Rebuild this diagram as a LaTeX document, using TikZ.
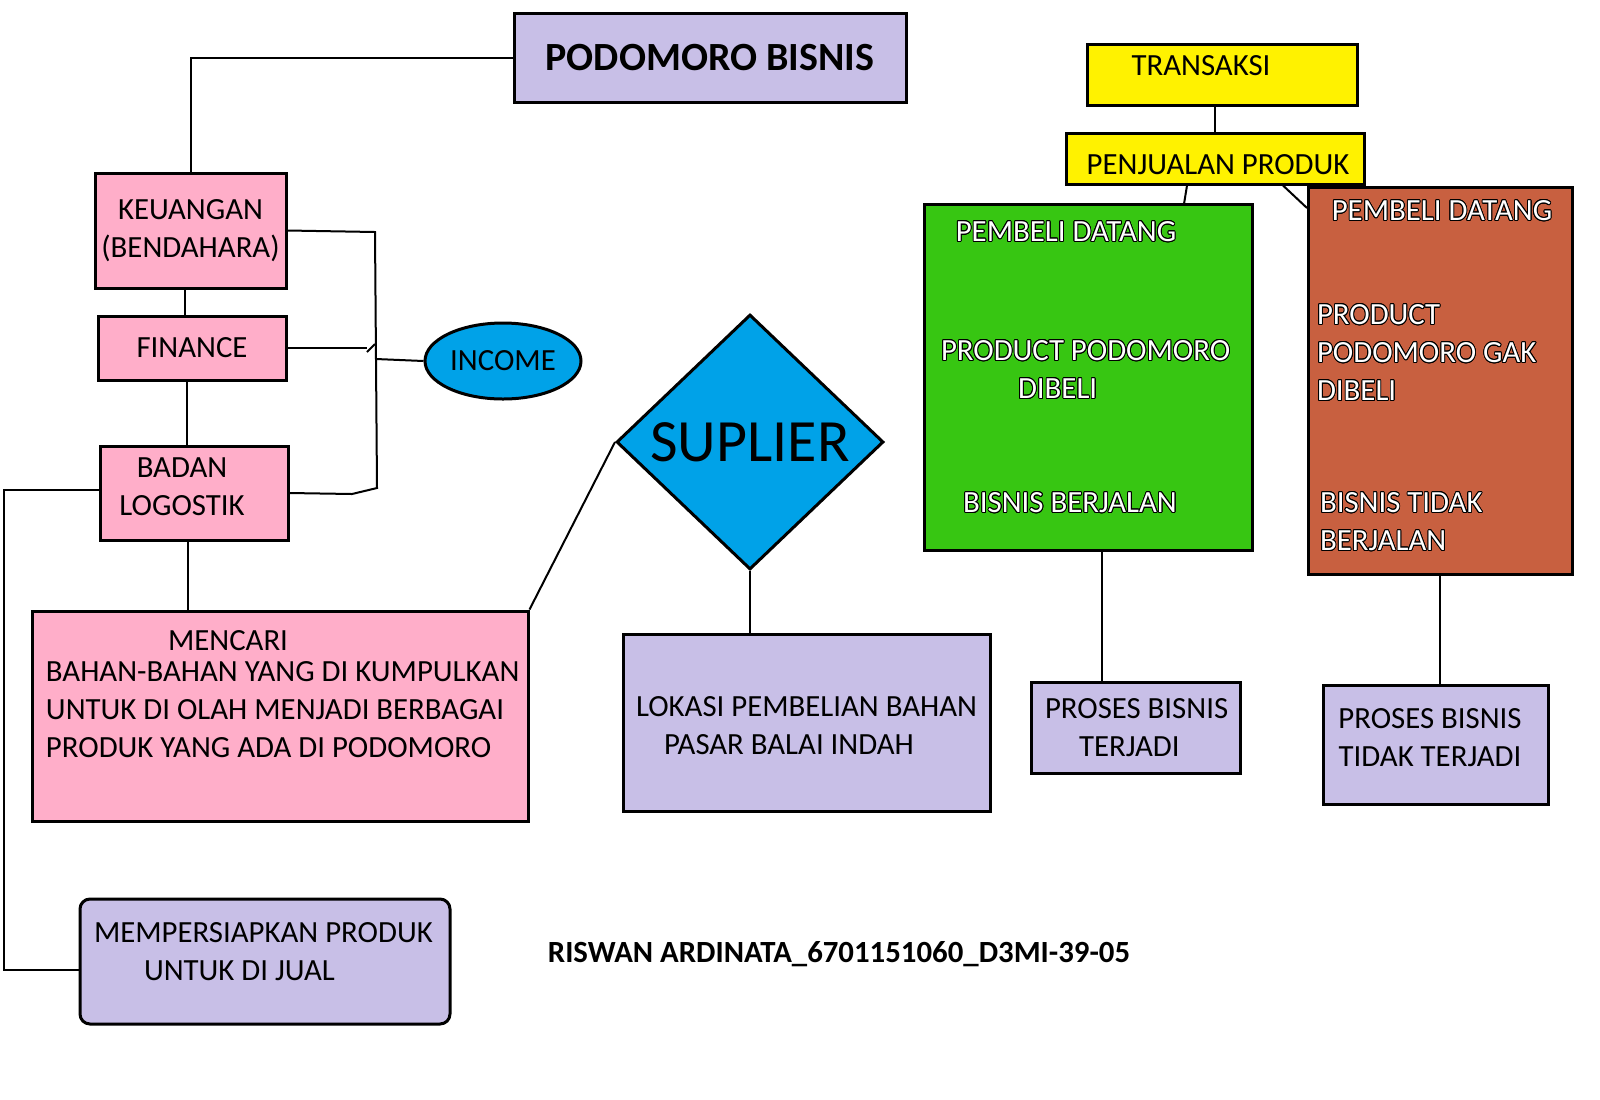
\documentclass[tikz,border=0pt]{standalone}
\usepackage{fontspec}
\setmainfont{Carlito}
\usepackage{contour}
\usetikzlibrary{shapes.geometric}
\contourlength{0.45pt}
\definecolor{lavfill}{RGB}{200,191,231}
\definecolor{pinkfill}{RGB}{255,174,201}
\definecolor{skyfill}{RGB}{0,162,232}
\definecolor{yellowfill}{RGB}{255,242,0}
\definecolor{greenfill}{RGB}{55,198,18}
\definecolor{rustfill}{RGB}{200,96,64}
\newcommand{\wtxt}[1]{\contour{black}{\textcolor{white}{#1}}}
\tikzset{
  box/.style={draw, line width=1.5pt, inner sep=0pt, align=center,
              font=\fontsize{15.4}{19}\selectfont},
  lbl/.style={inner sep=0pt, align=left, font=\fontsize{15.4}{19}\selectfont},
  lblc/.style={inner sep=0pt, align=center, font=\fontsize{15.4}{19}\selectfont}
}

\begin{document}
\begin{tikzpicture}[x=0.5pt, y=-0.5pt, line width=1pt]
  \useasboundingbox (0,0) rectangle (1600,1099);

  % left column
  \node[box, fill=lavfill, minimum width=196pt, minimum height=44.5pt,
        font=\bfseries\fontsize{20}{24}\selectfont] (podo) at (710,57.5) {PODOMORO BISNIS};
  \node[box, fill=pinkfill, minimum width=95.5pt, minimum height=57.5pt] (keu) at (190.5,230.5) {KEUANGAN\\(BENDAHARA)};
  \node[box, fill=pinkfill, minimum width=94pt, minimum height=32pt] (fin) at (192,348) {FINANCE};
  \node[box, fill=pinkfill, minimum width=94pt, minimum height=47pt] (badan) at (194,493) {};
  \node[lblc] (badant) at (182,487) {BADAN\\LOGOSTIK};
  \node[draw, line width=1.5pt, fill=skyfill, ellipse, inner sep=0pt,
        minimum width=78pt, minimum height=38pt,
        font=\fontsize{15.4}{19}\selectfont] (income) at (503,361) {INCOME};
  \node[draw, line width=1.5pt, fill=skyfill, diamond, inner sep=0pt,
        minimum width=133.5pt, minimum height=127.5pt,
        font=\fontsize{30}{36}\selectfont] (supl) at (750,442) {SUPLIER};

  % bottom boxes
  \node[box, fill=pinkfill, minimum width=248pt, minimum height=105pt] (mencari) at (280,716) {};
  \node[lblc] (mencarit) at (228,641) {MENCARI};
  \node[lbl, anchor=west] (mencarib) at (45,709.5)
    {BAHAN-BAHAN YANG DI KUMPULKAN\\UNTUK DI OLAH MENJADI BERBAGAI\\PRODUK YANG ADA DI PODOMORO};
  \node[box, fill=lavfill, minimum width=183.5pt, minimum height=88.5pt] (lok) at (806.5,722.5) {};
  \node[lbl, anchor=west] (lokt) at (635,726)
    {LOKASI PEMBELIAN BAHAN\\\hspace*{14pt}PASAR BALAI INDAH};
  \node[box, fill=lavfill, minimum width=185pt, minimum height=62.5pt, rounded corners=5pt] (mem) at (265,961.5) {};
  \node[lbl, anchor=west] (memt) at (93,952)
    {MEMPERSIAPKAN PRODUK\\\hspace*{25pt}UNTUK DI JUAL};
  \node[inner sep=0pt, font=\bfseries\fontsize{15.4}{19}\selectfont] (name) at (839,954)
    {RISWAN ARDINATA\_6701151060\_D3MI-39-05};

  % right side
  \node[box, fill=yellowfill, minimum width=135pt, minimum height=30.5pt] (trans) at (1222,74.5) {};
  \node[lblc] (transt) at (1201,66) {TRANSAKSI};
  \node[box, fill=yellowfill, minimum width=149pt, minimum height=25.5pt] (penj) at (1215,158.5) {};
  \node[lblc] (penjt) at (1218,165) {PENJUALAN PRODUK};
  \node[box, fill=greenfill, minimum width=164pt, minimum height=173pt] (green) at (1088,377) {};
  \node[lblc] (g1) at (1066,232) {\wtxt{PEMBELI DATANG}};
  \node[lbl, anchor=west] (g2) at (940,370) {\wtxt{PRODUCT PODOMORO}\\\hspace*{38.5pt}\wtxt{DIBELI}};
  \node[lblc] (g3) at (1070,503) {\wtxt{BISNIS BERJALAN}};
  \node[box, fill=rustfill, minimum width=132pt, minimum height=193.5pt] (brown) at (1440,380.5) {};
  \node[lblc] (b1) at (1442,211) {\wtxt{PEMBELI DATANG}};
  \node[lbl, anchor=west] (b2) at (1316,353) {\wtxt{PRODUCT}\\\wtxt{PODOMORO GAK}\\\wtxt{DIBELI}};
  \node[lbl, anchor=west] (b3) at (1319,522) {\wtxt{BISNIS TIDAK}\\\wtxt{BERJALAN}};
  \node[box, fill=lavfill, minimum width=104.5pt, minimum height=45.5pt] (pt1) at (1135.5,727.5) {};
  \node[lbl, anchor=west] (pt1t) at (1044,728) {PROSES BISNIS\\\hspace*{17pt}TERJADI};
  \node[box, fill=lavfill, minimum width=112.5pt, minimum height=59.5pt] (pt2) at (1435.5,744.5) {};
  \node[lblc] (pt2t) at (1430,737.5) {PROSES BISNIS\\TIDAK TERJADI};

  % connectors, left
  \draw (podo.west) -| (keu.north);
  \draw ([xshift=-3pt]keu.south) -- ([xshift=-3pt]keu.south |- fin.north);
  \draw ([xshift=-2.5pt]fin.south) -- ([xshift=-2.5pt]fin.south |- badan.north);
  \draw ([xshift=-3pt]badan.south) -- ([xshift=-3pt]badan.south |- mencari.north);
  \coordinate (brtop) at (375,232);
  \coordinate (brbot) at (377,488);
  \coordinate (brmid) at (376,359);
  \coordinate (finend) at (367,348);
  \draw (keu.east) -- (brtop) -- (brbot) -- (352,494) -- (badan.east);
  \draw (fin.east) -- (finend);
  \draw ([yshift=-2pt]finend) -- ++(8,-8);
  \draw (brmid) -- (income.west);
  \draw ([yshift=1.5pt]badan.west) -- ++(-95,0) |- ([yshift=-4pt]mem.west);
  \draw (mencari.north east) -- (supl.west);
  \draw (supl.south) -- (supl.south |- lok.north);

  % connectors, right
  \coordinate (gtop) at (1184,204);
  \coordinate (btop) at (1307,208);
  \coordinate (gbot) at (1102,550);
  \draw (penj.north) -- (penj.north |- trans.south);
  \draw ([xshift=-14pt]penj.south) -- (gtop);
  \draw ([xshift=34pt]penj.south) -- (btop);
  \draw (gbot) -- (gbot |- pt1.north);
  \draw (brown.south) -- (brown.south |- pt2.north);
\end{tikzpicture}
\end{document}
